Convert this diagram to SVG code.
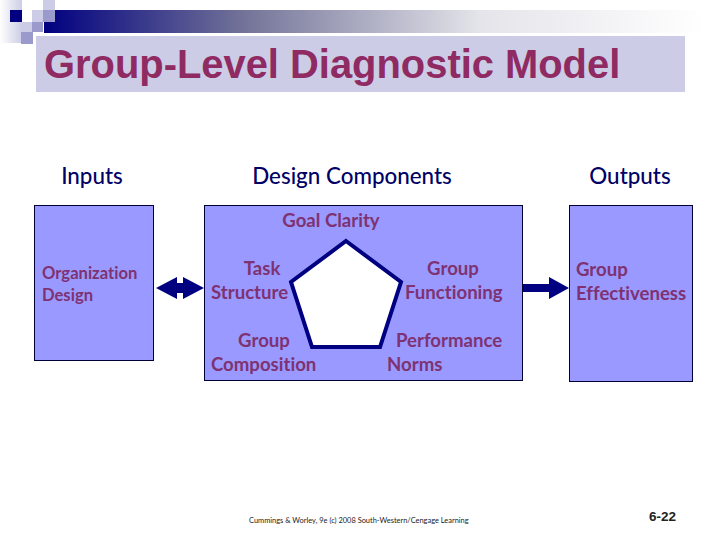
<svg xmlns="http://www.w3.org/2000/svg" width="720" height="540" viewBox="0 0 720 540">
<style>
.box{fill:#9999ff;stroke:#000033;stroke-width:1}
.h{font-family:"Lato","Open Sans",sans-serif;font-size:22.400px;fill:#000066;font-weight:500;font-variant-ligatures:none}
.l{font-family:"Lato","Open Sans",sans-serif;font-size:18.600px;fill:#7f3272;font-weight:700;font-variant-ligatures:none}
.s{font-size:16.600px}
.conn{fill:#000080;stroke:none}
</style>
<defs>
<linearGradient id="band"><stop offset="0" stop-color="#000080"/><stop offset="0.3" stop-color="#727298"/><stop offset="0.66" stop-color="#e4e4ea"/><stop offset="1" stop-color="#ffffff"/></linearGradient>
<linearGradient id="fade"><stop offset="0" stop-color="#ffffff"/><stop offset="1" stop-color="#ccccE6"/></linearGradient>
</defs>
<rect width="720" height="540" fill="#ffffff"/>
<g id="decor">
<rect x="44" y="10" width="660" height="23" fill="url(#band)"/>
<rect x="0" y="0" width="22" height="43" fill="url(#fade)"/>
<rect x="10" y="10" width="12" height="12" fill="#000080"/>
<rect x="43" y="0" width="12" height="10" fill="#ccccE6"/>
<rect x="32" y="10" width="11" height="12" fill="#ccccE6"/>
<rect x="43" y="10" width="12" height="12" fill="#9a9acc"/>
<rect x="22" y="22" width="10" height="10" fill="#ccccE6"/>
<rect x="32" y="22" width="11" height="10" fill="#9a9acc"/>
<rect x="21" y="32" width="12" height="12" fill="#9a9acc"/>
</g>
<g id="title">
<rect x="36" y="36" width="649" height="56" fill="#ccccE6"/>
<text x="44" y="78" font-family="Liberation Sans, Arial, sans-serif" font-size="39.900px" font-weight="700" fill="#8f2a63">Group-Level Diagnostic Model</text>
</g>
<g id="headers">
<text class="h" x="92" y="184" text-anchor="middle">Inputs</text>
<text class="h" x="352" y="184" text-anchor="middle">Design Components</text>
<text class="h" x="630" y="184" text-anchor="middle">Outputs</text>
</g>
<g id="inputs">
<rect class="box" x="34.500" y="205.500" width="119" height="155"/>
<text class="l s" x="42" y="279">Organization</text>
<text class="l s" x="42" y="301">Design</text>
</g>
<g id="design">
<rect class="box" x="204.500" y="205.500" width="318" height="175"/>
<polygon points="346,241 401,282 380,347 312,347 291,282" fill="#ffffff" stroke="#000080" stroke-width="4"/>
<text class="l" x="331" y="227" text-anchor="middle">Goal Clarity</text>
<text class="l" x="262" y="275" text-anchor="middle">Task</text>
<text class="l" x="211" y="299">Structure</text>
<text class="l" x="264" y="347" text-anchor="middle">Group</text>
<text class="l" x="211" y="371">Composition</text>
<text class="l" x="453" y="275" text-anchor="middle">Group</text>
<text class="l" x="405" y="299">Functioning</text>
<text class="l" x="396" y="347">Performance</text>
<text class="l" x="387" y="371">Norms</text>
</g>
<g id="outputs">
<rect class="box" x="569.500" y="205.500" width="123" height="176"/>
<text class="l" x="576" y="276">Group</text>
<text class="l" x="576" y="300">Effectiveness</text>
</g>
<g id="connectors">
<polygon class="conn" points="156,288 177,277 177,283 183,283 183,277 204,288 183,299 183,293 177,293 177,299"/>
<polygon class="conn" points="523,284 549,284 549,277 569,288 549,299 549,292 523,292"/>
</g>
<g id="footer">
<text x="249" y="523" font-family="Lato, sans-serif" font-size="7.450px" fill="#222222">Cummings &amp; Worley, 9e  (c) 2008 South-Western/Cengage Learning</text>
<text x="649" y="521" font-family="Liberation Sans, Arial, sans-serif" font-size="13.500px" font-weight="700" fill="#222222">6-22</text>
</g>
</svg>
